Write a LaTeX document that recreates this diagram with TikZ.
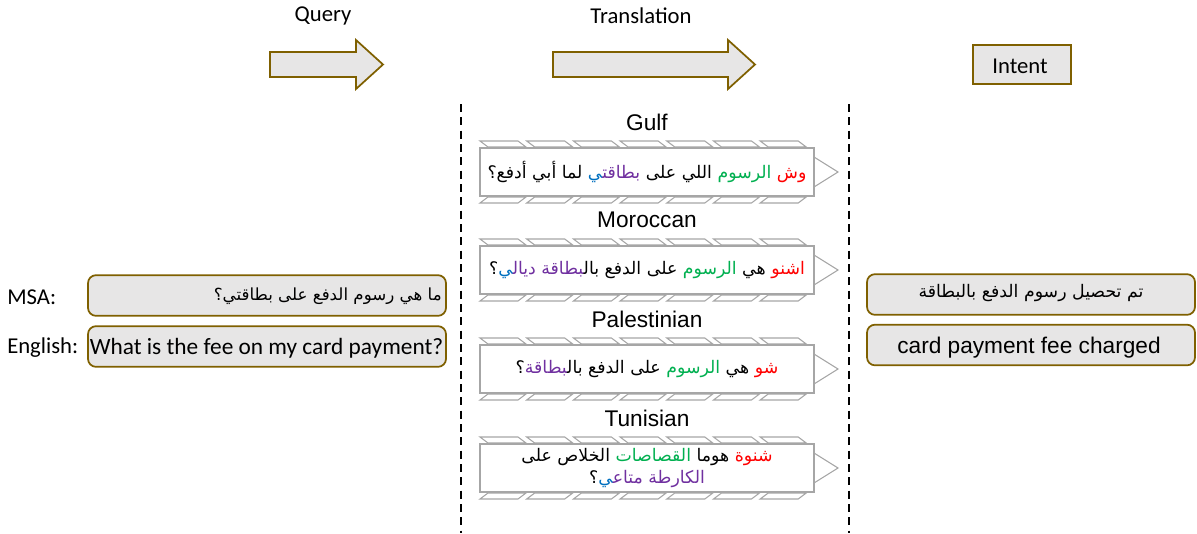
\documentclass[tikz,border=0pt]{standalone}
\usepackage{fontspec}
\setmainfont{Carlito}
\newfontfamily\arialf{Liberation Sans}
\newfontfamily\arabicfont[Script=Arabic]{DejaVu Sans}
\definecolor{lgray}{HTML}{E7E6E6}
\definecolor{gold}{HTML}{7F6000}
\definecolor{dgray}{HTML}{A6A6A6}
\definecolor{cred}{HTML}{FF0000}
\definecolor{cgreen}{HTML}{00B050}
\definecolor{cpurple}{HTML}{7030A0}
\definecolor{cblue}{HTML}{0070C0}
\newcommand{\zj}{\char"200D\relax}
\newcommand{\cw}[2]{\mbox{\textcolor{#1}{#2}}}
\newcommand{\qm}{\mbox{؟}}
\begin{document}
\begin{tikzpicture}[x=0.75pt,y=-0.75pt,
  hdr/.style={font=\fontsize{17}{20}\selectfont, inner sep=0pt},
  dlbl/.style={font=\arialf\fontsize{17}{20}\selectfont, inner sep=0pt},
  garrow/.style={draw=gold, fill=lgray, line width=1.3pt, line join=miter},
  rbox/.style={draw=gold, fill=lgray, line width=1.3pt, rounded corners=6pt, inner sep=0pt},
  lbox/.style={rbox, minimum width=268.5pt, minimum height=30.5pt},
  rtbox/.style={rbox, minimum width=246pt, minimum height=30.5pt},
  ibox/.style={draw=gold, fill=lgray, line width=1.3pt, minimum width=73.5pt, minimum height=29.25pt, inner sep=0pt},
  dbox/.style={draw=dgray, fill=white, line width=0.9pt, minimum width=250.5pt, minimum height=36pt, inner sep=0pt, align=center},
  deco/.style={draw=dgray, line width=0.8pt, line join=miter},
  arfont/.style={font=\arabicfont\fontsize{13}{17}\selectfont},
  sep/.style={draw=black, line width=1.1pt, dash pattern=on 6pt off 4pt}
]
\useasboundingbox (0,0) rectangle (1197,533);

% top headers
\node[hdr] (qlbl) at (323,16) {Query};
\node[hdr] (tlbl) at (641,16) {Translation};
\draw[garrow] (270,52) -- (356,52) -- (356,40) -- (383,64.5) -- (356,89) -- (356,77) -- (270,77) -- cycle;
\draw[garrow] (553,52) -- (728,52) -- (728,40) -- (755,64.5) -- (728,89) -- (728,77) -- (553,77) -- cycle;
\node[ibox] (intent) at (1022,64.5) {};
\node[hdr] (intentt) at (1020,66.5) {Intent};

% separators
\coordinate (s1a) at (461,104); \coordinate (s1b) at (461,533);
\coordinate (s2a) at (849,104); \coordinate (s2b) at (849,533);
\draw[sep] (s1a) -- (s1b);
\draw[sep] (s2a) -- (s2b);

% left query boxes
\node[hdr, anchor=west] (msal) at (7,297) {MSA:};
\node[hdr, anchor=west] (engl) at (7,348) {English:};
\node[lbox] (msa) at (267,295.5) {};
\node[arfont, font=\arabicfont\fontsize{12.5}{16}\selectfont, anchor=east, inner sep=0pt] (msat) at (442,296) {\qm بطاقتي على الدفع رسوم هي ما};
\node[lbox] (eng) at (267,346.5) {};
\node[hdr, font=\fontsize{17.5}{20}\selectfont] (engt) at (266.5,348) {What is the fee on my card payment?};

% right intent boxes
\node[rtbox] (iar) at (1031,294.5) {};
\node[arfont, inner sep=0pt] (iart) at (1031,293) {بالبطاقة الدفع رسوم تحصيل تم};
\node[rtbox] (ien) at (1031,345) {};
\node[dlbl] (ient) at (1029,348) {card payment fee charged};

% dialect boxes decorations
\foreach \cy/\nm in {172/Gulf,270/Moroccan,369/Palestinian,468/Tunisian}{
  \foreach \i in {0,...,6}{
    \pgfmathsetmacro\xx{480+46.7*\i}
    \draw[deco] (\xx,\cy-31) -- ++(38,0) -- ++(8,6) -- ++(-38,0) -- cycle;
    \draw[deco] (\xx,\cy+31) -- ++(38,0) -- ++(8,-6) -- ++(-38,0) -- cycle;
  }
  \draw[deco] (814,\cy-15) -- (838,\cy) -- (814,\cy+15);
  \node[dlbl] at (647,\cy-50) {\nm};
}

\node[dbox, arfont] (gulf) at (647,172) {\qm أدفع أبي لما \cw{cblue}{\zj ي}\cw{cpurple}{بطاقت\zj} على اللي \cw{cgreen}{الرسوم} \cw{cred}{وش}};
\node[dbox, arfont] (mor) at (647,270) {\qm\cw{cblue}{\zj ي}\cw{cpurple}{ديال\zj} \cw{cpurple}{\zj بطاقة}\mbox{بال\zj} الدفع على \cw{cgreen}{الرسوم} هي \cw{cred}{اشنو}};
\node[dbox, arfont] (pal) at (647,369) {\qm\cw{cpurple}{\zj بطاقة}\mbox{بال\zj} الدفع على \cw{cgreen}{الرسوم} هي \cw{cred}{شو}};
\node[dbox, arfont, font=\arabicfont\fontsize{13}{16}\selectfont] (tun) at (647,468) {على الخلاص \cw{cgreen}{القصاصات} هوما \cw{cred}{شنوة}\\\qm\cw{cblue}{\zj ي}\cw{cpurple}{متاع\zj} \cw{cpurple}{الكارطة}};
\end{tikzpicture}
\end{document}
